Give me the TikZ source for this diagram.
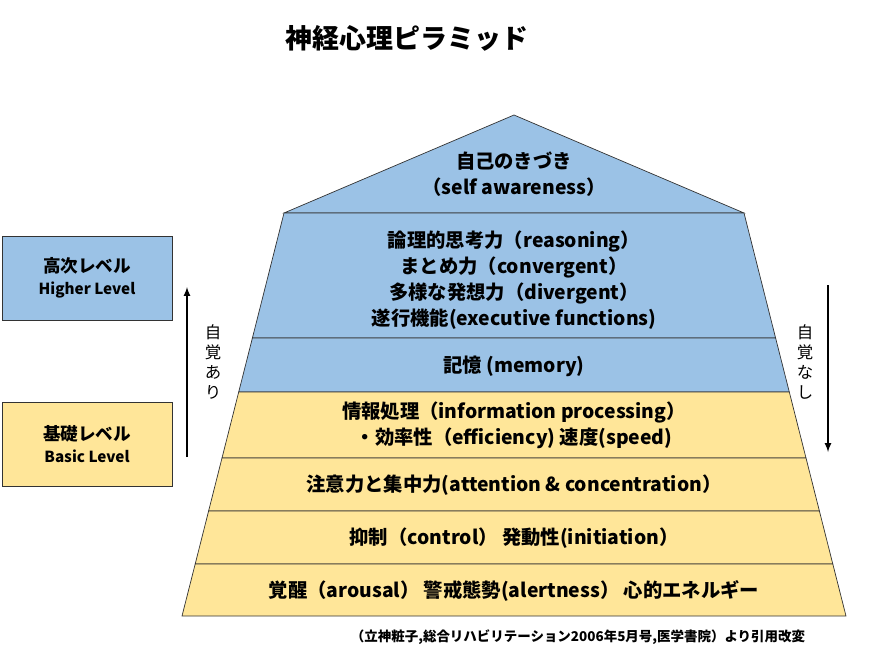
\documentclass[tikz,border=0pt]{standalone}
\usepackage{fontspec}
\setmainfont{Noto Sans CJK JP}
\usepackage{tikz}
\definecolor{upperblue}{RGB}{155,194,230}
\definecolor{loweryellow}{RGB}{255,230,153}
\tikzset{
  layer/.style={draw=black!80,line width=0.6pt},
  txt/.style={inner sep=0pt,font=\fontsize{16.5}{22}\selectfont\bfseries,align=center},
  side/.style={draw=black!80,line width=0.6pt,minimum width=170*0.03cm,minimum height=84*0.03cm,align=center,font=\fontsize{15}{21}\selectfont\bfseries},
  vert/.style={inner sep=0pt,font=\fontsize{14}{17}\selectfont,align=center}
}
\begin{document}
\begin{tikzpicture}[x=0.03cm,y=-0.03cm]
\useasboundingbox (0,0) rectangle (874,661);
% title
\node [font=\fontsize{23}{28}\selectfont\bfseries] (title) at (407,38) {神経心理ピラミッド};
% pyramid layers
\fill [upperblue] (514,115) -- (284,213) -- (744,213) -- cycle;
\draw [layer] (514,115) -- (284,213) -- (744,213) -- cycle;
\draw [layer,fill=upperblue] (284,213) -- (252.4,338) -- (775.6,338) -- (744,213) -- cycle;
\draw [layer,fill=upperblue] (252.4,338) -- (238.7,392) -- (789.3,392) -- (775.6,338) -- cycle;
\draw [layer,fill=loweryellow] (238.7,392) -- (222,458) -- (806,458) -- (789.3,392) -- cycle;
\draw [layer,fill=loweryellow] (222,458) -- (208.6,511) -- (819.4,511) -- (806,458) -- cycle;
\draw [layer,fill=loweryellow] (208.6,511) -- (195.2,564) -- (832.8,564) -- (819.4,511) -- cycle;
\draw [layer,fill=loweryellow] (195.2,564) -- (182,616) -- (846,616) -- (832.8,564) -- cycle;
% layer texts
\node [txt] (aware) at (514,174) {自己のきづき\\（self awareness）};
\node [txt] (exec) at (514,280) {論理的思考力（reasoning）\\まとめ力（convergent）\\多様な発想力（divergent）\\遂行機能(executive functions)};
\node [txt] (memory) at (514,366) {記憶 (memory)};
\node [txt] (info) at (514,425) {情報処理（information processing）\\・効率性（efficiency) 速度(speed)};
\node [txt] (attn) at (514,485) {注意力と集中力(attention \& concentration）};
\node [txt] (ctrl) at (514,538) {抑制（control） 発動性(initiation）};
\node [txt] (arousal) at (514,591) {覚醒（arousal） 警戒態勢(alertness） 心的エネルギー};
% side boxes
\node [side,fill=upperblue] (higher) at (87,278) {高次レベル\\[-2pt]{\fontsize{13}{16}\selectfont Higher Level}};
\node [side,fill=loweryellow] (basic) at (87,444) {基礎レベル\\[-2pt]{\fontsize{13}{16}\selectfont Basic Level}};
% arrows
\coordinate (upS) at (187,457);
\coordinate (upE) at (187,287);
\coordinate (dnS) at (828,285);
\coordinate (dnE) at (828,452);
\draw [-latex,line width=1.6pt] (upS) -- (upE);
\draw [-latex,line width=1.6pt] (dnS) -- (dnE);
\node [vert] (aware1) at (213,362) {自\\覚\\あ\\り};
\node [vert] (aware0) at (805,362) {自\\覚\\な\\し};
% source
\node [font=\fontsize{11.5}{14}\selectfont\bfseries] (source) at (578,637) {（立神粧子,総合リハビリテーション2006年5月号,医学書院）より引用改変};
\end{tikzpicture}
\end{document}
